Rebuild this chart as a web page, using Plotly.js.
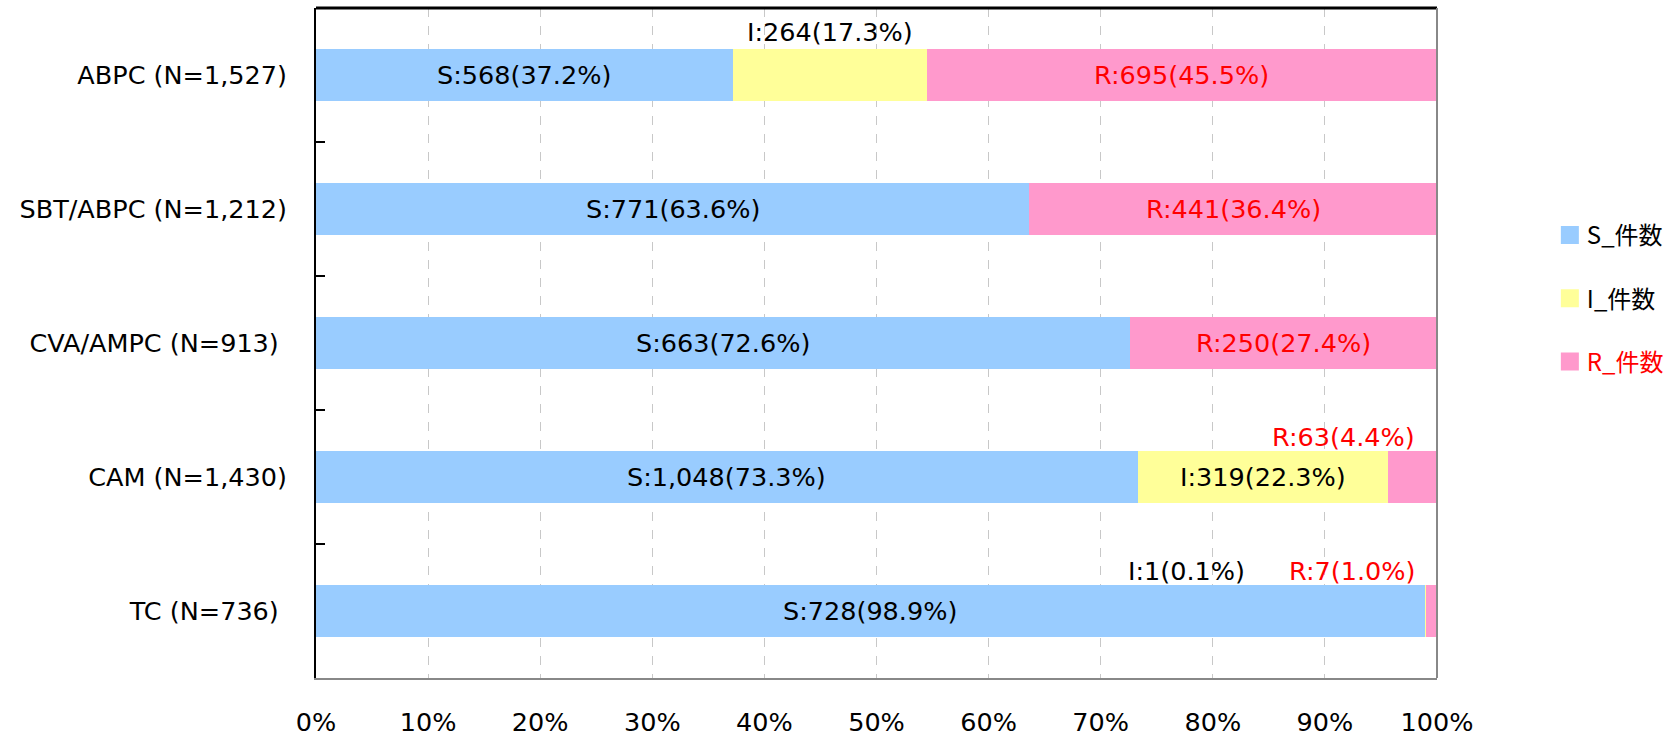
<!DOCTYPE html>
<html>
<head>
<meta charset="utf-8">
<script src="https://cdn.plot.ly/plotly-3.0.1.min.js"></script>
<style>
  html, body { margin: 0; padding: 0; background: #ffffff; }
  #chart { width: 1678px; height: 740px; }
</style>
</head>
<body>
<div id="chart"></div>
<script>
// ---- data ----
const categories = ['ABPC (N=1,527)', 'SBT/ABPC (N=1,212)', 'CVA/AMPC (N=913)', 'CAM (N=1,430)', 'TC (N=736)'];
const tickLabels = ['ABPC (N=1,527)', 'SBT/ABPC (N=1,212)', 'CVA/AMPC (N=913)\u00a0', 'CAM (N=1,430)', 'TC (N=736)\u00a0'];
const sCount = [568, 771, 663, 1048, 728];
const iCount = [264, 0, 0, 319, 1];
const rCount = [695, 441, 250, 63, 7];
const seriesNames = ['S_件数', 'I_件数', 'R_件数'];
const xTickVals = [0, 10, 20, 30, 40, 50, 60, 70, 80, 90, 100];
const xTickText = ['0%', '10%', '20%', '30%', '40%', '50%', '60%', '70%', '80%', '90%', '100%'];

// ---- styles ----
const colors = ['#99CCFF', '#FFFF99', '#FF99CC'];
const labelColors = ['#000000', '#000000', '#FF0000'];
const prefixes = ['S', 'I', 'R'];
const FONT = 'DejaVu Sans, Verdana, sans-serif';
const FSIZE = 25.5;
const CJK = 'Noto Sans CJK JP, sans-serif';
// labels drawn above the bar: key "series-category" -> placement
const aboveLabels = {
  '1-0': { mode: 'center', yshift: 43 },
  '2-3': { mode: 'right', xshift: -20, yshift: 40 },
  '1-4': { mode: 'right', xshift: -190, yshift: 40 },
  '2-4': { mode: 'right', xshift: -20, yshift: 40 }
};

const counts = [sCount, iCount, rCount];
const totals = categories.map((c, k) => sCount[k] + iCount[k] + rCount[k]);

const traces = counts.map((arr, s) => ({
  type: 'bar',
  orientation: 'h',
  name: s === 2 ? '<span style="color:#FF0000">' + seriesNames[s] + '</span>' : seriesNames[s],
  legendgroup: prefixes[s],
  y: categories,
  x: arr,
  marker: { color: colors[s], line: { width: 0 } },
  hoverinfo: 'skip'
}));

const annotations = [];
categories.forEach((cat, k) => {
  let cum = 0;
  counts.forEach((arr, s) => {
    const v = arr[k];
    const pct = v / totals[k] * 100;
    const start = cum;
    cum += pct;
    if (v === 0) return;
    const text = prefixes[s] + ':' + v.toLocaleString('en-US') + '(' + pct.toFixed(1) + '%)';
    const key = s + '-' + k;
    const a = {
      xref: 'x', yref: 'y', y: cat, text: text, showarrow: false,
      font: { family: FONT, size: FSIZE, color: labelColors[s] }
    };
    if (aboveLabels[key]) {
      const p = aboveLabels[key];
      a.yshift = p.yshift;
      if (p.mode === 'center') { a.x = start + pct / 2; a.xanchor = 'center'; }
      else { a.x = 100; a.xanchor = 'right'; a.xshift = p.xshift; }
    } else {
      a.x = start + pct / 2; a.xanchor = 'center';
    }
    annotations.push(a);
  });
});

const layout = {
  width: 1678, height: 740,
  margin: { l: 316, r: 241, t: 8, b: 62, autoexpand: false },
  paper_bgcolor: '#ffffff', plot_bgcolor: '#ffffff',
  barmode: 'stack', barnorm: 'percent', bargap: 0.612,
  showlegend: true,
  legend: {
    x: 1.098, y: 0.694, xanchor: 'left', yanchor: 'top',
    traceorder: 'grouped', tracegroupgap: 29,
    font: { family: CJK, size: 24, color: '#000000' },
    bgcolor: 'rgba(0,0,0,0)'
  },
  xaxis: {
    range: [0, 100], tickvals: xTickVals, ticktext: xTickText,
    showgrid: true, gridcolor: '#c8c8c8', gridwidth: 1, griddash: 'dash',
    zeroline: false, showline: true, linecolor: '#888888', linewidth: 2,
    ticks: '', ticklabelstandoff: 20,
    tickfont: { family: FONT, size: FSIZE, color: '#000000' }, fixedrange: true
  },
  yaxis: {
    type: 'category', categoryorder: 'array', categoryarray: categories,
    autorange: 'reversed', tickvals: categories, ticktext: tickLabels,
    showgrid: false, zeroline: false, showline: true, linecolor: '#000000', linewidth: 2,
    ticks: 'inside', tickson: 'boundaries', ticklen: 9, tickwidth: 2, tickcolor: '#000000',
    ticklabelstandoff: 22,
    tickfont: { family: FONT, size: FSIZE, color: '#000000' }, fixedrange: true
  },
  shapes: [
    { type: 'line', xref: 'paper', yref: 'paper', x0: 0, x1: 1, y0: 1, y1: 1, line: { color: '#000000', width: 3 } },
    { type: 'line', xref: 'paper', yref: 'paper', x0: 1, x1: 1, y0: 0, y1: 1, line: { color: '#888888', width: 2 } }
  ],
  annotations: annotations
};

Plotly.newPlot('chart', traces, layout, { displayModeBar: false, staticPlot: true }).then(gd => {
  // enlarge legend swatches to match the reference
  gd.querySelectorAll('.legend .legendpoints path').forEach(p => {
    p.setAttribute('d', 'M9,9H-9V-9H9Z');
    p.setAttribute('transform', 'translate(23,0)');
  });
});
</script>
</body>
</html>
